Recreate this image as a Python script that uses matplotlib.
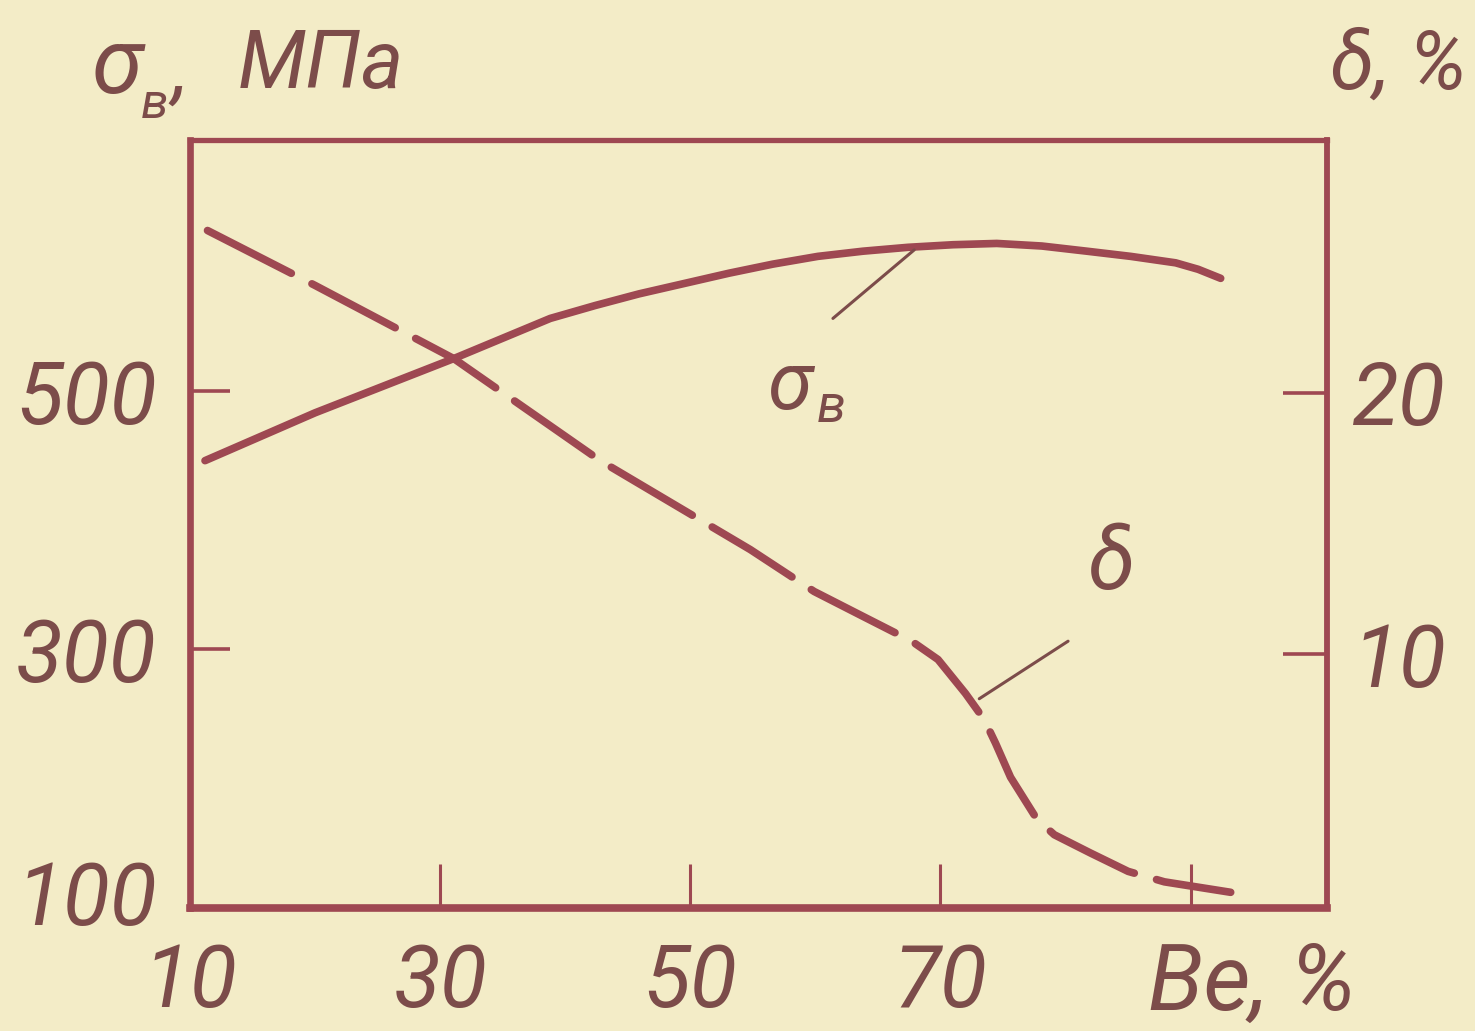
import numpy as np
import matplotlib.pyplot as plt
from matplotlib.transforms import ScaledTranslation

# Be content, % and tensile strength sigma_B, MPa (solid curve)
be_sigma = [11.2, 20.0, 31.1, 38.8, 42.4, 45.9, 49.5, 53.1, 56.6, 60.2, 63.8,
            67.4, 71.0, 74.5, 78.1, 81.7, 85.2, 88.8, 90.6, 92.4]
sigma_b = [446, 483, 525, 556, 566, 575, 583, 591, 598, 604, 608,
           611, 613, 614, 612, 608, 604, 599, 594, 587]

# Be content, % and elongation delta, % (dashed curve)
be_delta = [11.4, 20.0, 31.1, 42.8, 54.8, 59.9, 64.0, 67.7, 69.8, 72.0, 73.5,
            74.4, 75.6, 77.7, 79.1, 82.0, 85.0, 87.9, 93.2]
delta = [26.2, 24.1, 21.3, 17.4, 14.0, 12.4, 11.4, 10.5, 9.8, 8.5, 7.5,
         6.6, 5.3, 3.7, 3.1, 2.4, 1.7, 1.3, 0.9]

x_ticks = [10, 30, 50, 70, 90]
x_labels = ["10", "30", "50", "70", ""]
left_ticks = [100, 300, 500]
right_ticks = [10, 20]

bg = "#f3ecc7"
line_c = "#9e4852"
text_c = "#7c4c4a"

plt.rcParams['font.family'] = ["Roboto", "DejaVu Sans"]
plt.rcParams['font.style'] = 'italic'

fig = plt.figure(figsize=(14.75, 10.31), dpi=100, facecolor=bg)
ax = fig.add_axes([190/1475, 123/1031, 1137/1475, 768/1031])
ax.set_facecolor(bg)
ax2 = ax.twinx()

ax.set_xlim(10, 100.9)
ax.set_ylim(100, 694)
ax2.set_ylim(0.3, 29.66)

lw = 5.5
ax.plot(be_sigma, sigma_b, color=line_c, lw=lw, solid_capstyle='round')

# stretch the dash pattern a little so the curve ends on a dash, as drawn
on, off = 11.8, 2.9
pts = ax2.transData.transform(np.column_stack([be_delta, delta]))
length = np.hypot(*np.diff(pts, axis=0).T).sum() * 72 / fig.dpi
k = round(length / (lw * (on + off)) - 0.8 * on / (on + off))
s = length / (lw * (k * (on + off) + 0.8 * on))
ax2.plot(be_delta, delta, color=line_c, lw=lw, linestyle=(0, (on * s, off * s)),
         dash_capstyle='round')

for sp in ax.spines.values():
    sp.set_color(line_c)
ax.spines['bottom'].set_linewidth(5.5)
ax.spines['left'].set_linewidth(4.8)
ax.spines['top'].set_linewidth(3.8)
ax.spines['right'].set_linewidth(4.2)
for sp in ax2.spines.values():
    sp.set_visible(False)

ax.set_xticks(x_ticks)
ax.set_xticklabels(x_labels)
ax.set_yticks(left_ticks)
ax2.set_yticks(right_ticks)

ax.tick_params(axis='x', direction='in', length=32, width=2.2, color=line_c,
               pad=24, labelsize=62, labelcolor=text_c)
ax.tick_params(axis='y', direction='in', length=29, width=2.6, color=line_c,
               pad=24, labelsize=62, labelcolor=text_c)
ax2.tick_params(axis='y', direction='in', length=32, width=2.6, color=line_c,
                pad=18, labelsize=62, labelcolor=text_c)

# the "100" label sits a bit above the corner
lab100 = ax.get_yticklabels()[0]
lab100.set_transform(lab100.get_transform() + ScaledTranslation(0, 16/100, fig.dpi_scale_trans))

ax.set_xlabel("Be, %", fontsize=66, color=text_c)
ax.xaxis.label.set_va('top')
ax.xaxis.label.set_ha('center')
ax.xaxis.set_label_coords(1062/1137, -0.042)

# axis titles
fig.text(92/1475, 1 - 68/1031, "σ", fontsize=66, color=text_c, va='center', ha='left')
fig.text(141/1475, 1 - 104/1031, "в", fontsize=36, color=text_c, va='center', ha='left')
fig.text(172/1475, 1 - 72/1031, ",", fontsize=58, color=text_c, va='center', ha='left')
fig.text(238/1475, 1 - 66/1031, "МПа", fontsize=58, color=text_c, va='center', ha='left')
fig.text(1467/1475, 1 - 66/1031, "δ, %", fontsize=58, color=text_c, va='center', ha='right')

# curve labels with leader lines
ax.annotate("", xy=(67.9, 609), xytext=(61.4, 556),
            arrowprops=dict(arrowstyle='-', lw=2.2, color=text_c, shrinkA=0, shrinkB=0))
ax.text(57.9, 503, "σ", fontsize=58, color=text_c, ha='center', va='center')
ax.text(61.3, 487, "в", fontsize=38, color=text_c, ha='center', va='center')

ax2.annotate("", xy=(73.1, 8.3), xytext=(80.2, 10.5),
             arrowprops=dict(arrowstyle='-', lw=2.2, color=text_c, shrinkA=0, shrinkB=0))
ax2.text(83.6, 13.4, "δ", fontsize=62, color=text_c, ha='center', va='center')

fig.savefig("out.png", dpi=100, facecolor=bg)
